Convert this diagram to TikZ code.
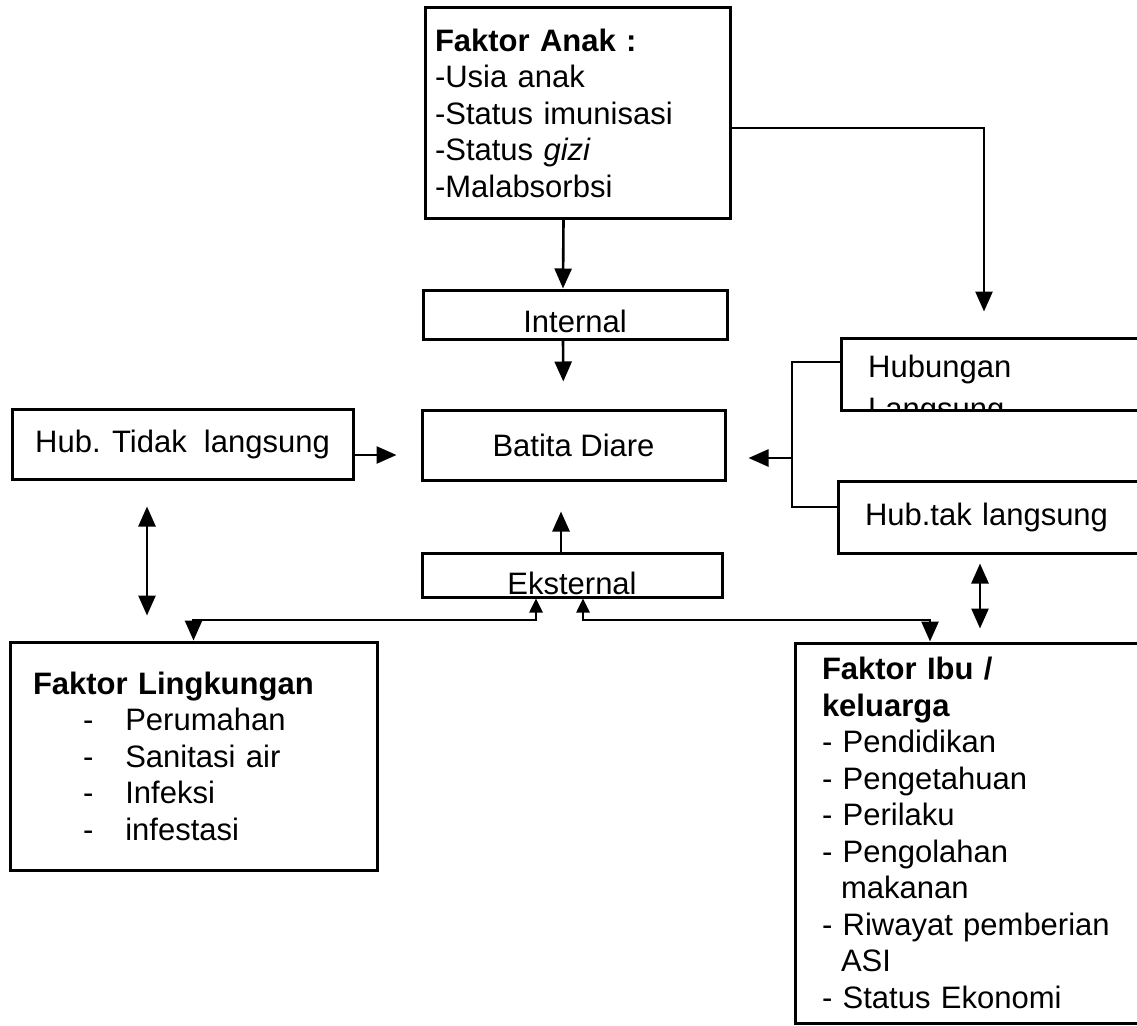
\documentclass[tikz,border=0pt]{standalone}
\usepackage{fontspec}
\setmainfont{Liberation Sans}
\usetikzlibrary{arrows.meta}

\tikzset{
  box/.style={draw, line width=3pt, inner sep=0pt, font=\fontsize{31}{36.5}\selectfont},
  listbox/.style={box, align=left, inner xsep=#1},
  arr/.style={->, line width=2.6pt},
  dbl/.style={<->, line width=2.6pt},
  smalltip/.style={{Triangle[length=14pt,width=13pt]}->, line width=2.6pt}
}

\begin{document}
\begin{tikzpicture}[x=1pt, y=-1pt, >={Triangle[length=20pt,width=17pt]}]
  \useasboundingbox (0,0) rectangle (1137,1025);

  % middle column
  \node[listbox=10pt, text width=285pt, minimum height=210pt] (anak) at (577.5,113)
    {\textbf{Faktor Anak :}\\-Usia anak\\-Status imunisasi\\-Status \textit{gizi}\\-Malabsorbsi};
  \node[box, minimum width=304pt, minimum height=49pt, text height=35pt, text depth=0pt] (internal) at (575,314.5) {Internal};
  \node[box, minimum width=303pt, minimum height=70pt] (batita) at (573.5,445) {Batita Diare};
  \node[box, minimum width=300pt, minimum height=44pt, text height=38pt, text depth=0pt] (eksternal) at (572,575) {Eksternal};

  % left side
  \node[box, minimum width=341pt, minimum height=70pt] (tidak) at (182.5,444) {Hub. Tidak\ \ langsung};
  \node[listbox=23pt, text width=321pt, minimum height=228pt] (lingk) at (193.5,756)
    {\textbf{Faktor Lingkungan}\\
     \hspace*{50pt}-\hspace*{32pt}Perumahan\\
     \hspace*{50pt}-\hspace*{32pt}Sanitasi air\\
     \hspace*{50pt}-\hspace*{32pt}Infeksi\\
     \hspace*{50pt}-\hspace*{32pt}infestasi};

  % right side
  \node[box, minimum width=334pt, minimum height=72pt] (hubL) at (1008,374) {};
  \begin{scope}
    \clip (hubL.north west) rectangle (hubL.south east);
    \node[anchor=north west, inner sep=0pt, align=left, font=\fontsize{31}{36.5}\selectfont] (hubLtext) at (868,355) {Hubungan\\[5pt]Langsung};
  \end{scope}
  \node[listbox=27pt, text width=280pt, minimum height=72pt] (hubT) at (1005,517) {Hub.tak langsung};
  \node[listbox=27pt, text width=300pt, minimum height=380pt] (ibu) at (972,833)
    {\textbf{Faktor Ibu /}\\\textbf{keluarga}\\- Pendidikan\\- Pengetahuan\\- Perilaku\\- Pengolahan\\
     \hspace*{19pt}makanan\\- Riwayat pemberian\\\hspace*{19pt}ASI\\- Status Ekonomi};

  % arrows
  \draw[arr] ([xshift=-14pt]anak.south) -- ([xshift=-12pt]internal.north);
  \draw[arr, shorten >=27pt] ([xshift=-12pt]internal.south) -- ([xshift=-10pt]batita.north);
  \draw[arr, shorten >=30pt] ([xshift=-11pt]eksternal.north) -- ([xshift=-12.5pt]batita.south);
  \draw[arr, shorten >=24pt] ([yshift=-11pt]tidak.east) -- ([yshift=-10pt]batita.west);
  \draw[arr, shorten >=25pt] ([yshift=-15pt]anak.east) -| ([xshift=-24pt]hubL.north);

  \coordinate (brk) at (792,458);
  \draw[line width=2.6pt] ([yshift=12pt]hubL.west) -| (brk) |- ([yshift=10pt]hubT.west);
  \draw[arr, shorten >=22pt] (brk) -- (brk -| batita.east);

  \draw[dbl, shorten <=26pt, shorten >=25pt] ([xshift=-35.5pt]tidak.south) -- ([xshift=-46.5pt]lingk.north);
  \draw[dbl, shorten <=9pt, shorten >=13pt] ([xshift=-25pt]hubT.south) -- ([xshift=8pt]ibu.north);

  \coordinate (jl) at (360,620);
  \coordinate (jr) at (760,620);
  \draw[smalltip] ([xshift=-36pt]eksternal.south) |- (jl) -| (lingk.north);
  \draw[smalltip] ([xshift=11pt]eksternal.south) |- (jr) -| ([xshift=-42pt]ibu.north);
\end{tikzpicture}
\end{document}
